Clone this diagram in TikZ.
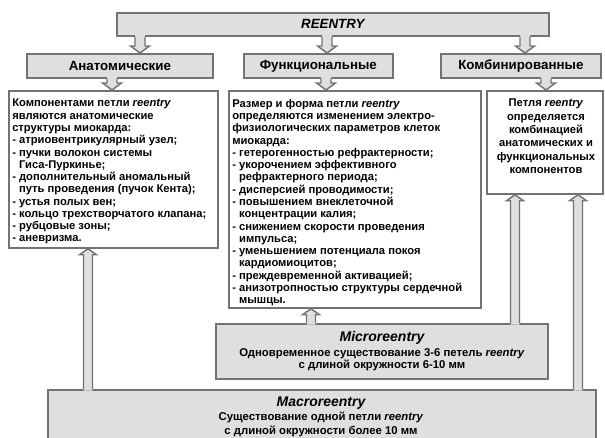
\documentclass[tikz,border=0pt]{standalone}
\usepackage{fontspec}
\setmainfont{Liberation Sans}
\usetikzlibrary{calc}

\newcommand{\pxu}{0.75pt}
% hollow block arrow pointing down: #1 column, #2 upper node, #3 lower node
\newcommand{\dnarr}[3]{%
  \fill[arrfill] ($(#2.south -| #1)+(-5,-1.5)$) -- ($(#3.north -| #1)+(-5,-7)$)
    -- ($(#3.north -| #1)+(-9.5,-7)$) -- (#3.north -| #1)
    -- ($(#3.north -| #1)+(9.5,-7)$) -- ($(#3.north -| #1)+(5,-7)$)
    -- ($(#2.south -| #1)+(5,-1.5)$) -- cycle;
  \draw[arrline] ($(#2.south -| #1)+(-5,0)$) -- ($(#3.north -| #1)+(-5,-7)$)
    -- ($(#3.north -| #1)+(-9.5,-7)$) -- (#3.north -| #1)
    -- ($(#3.north -| #1)+(9.5,-7)$) -- ($(#3.north -| #1)+(5,-7)$)
    -- ($(#2.south -| #1)+(5,0)$);
}
% hollow block arrow pointing up: #1 column, #2 lower node, #3 upper node
\newcommand{\uparr}[3]{%
  \fill[arrfill] ($(#2.north -| #1)+(-4.5,1.5)$) -- ($(#3.south -| #1)+(-4.5,6)$)
    -- ($(#3.south -| #1)+(-8.5,6)$) -- (#3.south -| #1)
    -- ($(#3.south -| #1)+(8.5,6)$) -- ($(#3.south -| #1)+(4.5,6)$)
    -- ($(#2.north -| #1)+(4.5,1.5)$) -- cycle;
  \draw[arrline] ($(#2.north -| #1)+(-4.5,0)$) -- ($(#3.south -| #1)+(-4.5,6)$)
    -- ($(#3.south -| #1)+(-8.5,6)$) -- (#3.south -| #1)
    -- ($(#3.south -| #1)+(8.5,6)$) -- ($(#3.south -| #1)+(4.5,6)$)
    -- ($(#2.north -| #1)+(4.5,0)$);
}

\begin{document}
\begin{tikzpicture}[x=0.75pt,y=-0.75pt,
    grbox/.style={draw=gray!90!black, line width=1.3pt, fill=gray!25, inner sep=0pt,
      anchor=north west, font=\bfseries\fontsize{10}{12}\selectfont},
    whbox/.style={draw=gray!90!black, line width=1.3pt, fill=white, inner sep=0pt,
      anchor=north west},
    body/.style={inner sep=0pt, anchor=north west, align=left,
      font=\bfseries\fontsize{8.4}{9.2}\selectfont},
    arrfill/.style={fill=gray!25},
    arrline/.style={draw=gray!90!black, line width=1.1pt, line join=miter}]
  \useasboundingbox (0,0) rectangle (605,437);

  % 1) head box and the three kinds
  \node[grbox, minimum width=432*\pxu, minimum height=23*\pxu] (reentry) at (116,12)
       {\itshape REENTRY};
  \node[grbox, minimum width=186*\pxu, minimum height=24*\pxu] (anat) at (26,53)
       {Анатомические};
  \node[grbox, minimum width=149*\pxu, minimum height=24*\pxu] (func) at (243,53)
       {Функциональные};
  \node[grbox, minimum width=160*\pxu, minimum height=24*\pxu] (comb) at (440,53)
       {Комбинированные};

  % 2) white boxes with the descriptions
  \node[whbox, minimum width=209*\pxu, minimum height=157*\pxu] (anattxt) at (8,90) {};
  \node[whbox, minimum width=252*\pxu, minimum height=217*\pxu] (functxt) at (228,90) {};
  \node[whbox, minimum width=116*\pxu, minimum height=103*\pxu] (combtxt) at (486,90) {};

  % 3) micro- and macroreentry at the bottom
  \node[grbox, minimum width=332*\pxu, minimum height=55*\pxu] (micro) at (215,323) {};
  \node[grbox, minimum width=548*\pxu, minimum height=52*\pxu] (macro) at (47,389) {};

  % 4) columns of the block arrows
  \coordinate (c1) at (140,0);
  \coordinate (c2) at (327,0);
  \coordinate (c3) at (525,0);
  \coordinate (d1) at (112,0);
  \coordinate (d2) at (326,0);
  \coordinate (d3) at (546,0);
  \coordinate (u1) at (88,0);
  \coordinate (u2) at (311,0);
  \coordinate (u3) at (515,0);
  \coordinate (u4) at (578,0);

  \dnarr{c1}{reentry}{anat}
  \dnarr{c2}{reentry}{func}
  \dnarr{c3}{reentry}{comb}
  \dnarr{d1}{anat}{anattxt}
  \dnarr{d2}{func}{functxt}
  \dnarr{d3}{comb}{combtxt}
  \uparr{u1}{macro}{anattxt}
  \uparr{u2}{micro}{functxt}
  \uparr{u3}{micro}{combtxt}
  \uparr{u4}{macro}{combtxt}

  % 5) texts
  \node[body] (anatlist) at (12,99) {Компонентами петли \textit{reentry}\\
    являются анатомические\\
    структуры миокарда:\\
    - атриовентрикулярный узел;\\
    - пучки волокон системы\\
    \phantom{- }Гиса-Пуркинье;\\
    - дополнительный аномальный\\
    \phantom{- }путь проведения (пучок Кента);\\
    - устья полых вен;\\
    - кольцо трехстворчатого клапана;\\
    - рубцовые зоны;\\
    - аневризма.};
  \node[body] (funclist) at (232,99) {Размер и форма петли \textit{reentry}\\
    определяются изменением электро-\\
    физиологических параметров клеток\\
    миокарда:\\
    - гетерогенностью рефрактерности;\\
    - укорочением эффективного\\
    \phantom{- }рефрактерного периода;\\
    - дисперсией проводимости;\\
    - повышением внеклеточной\\
    \phantom{- }концентрации калия;\\
    - снижением скорости проведения\\
    \phantom{- }импульса;\\
    - уменьшением потенциала покоя\\
    \phantom{- }кардиомиоцитов;\\
    - преждевременной активацией;\\
    - анизотропностью структуры сердечной\\
    \phantom{- }мышцы.};
  \node[body, anchor=north, align=center, font=\bfseries\fontsize{8.4}{10}\selectfont]
       (combnote) at (546,99) {Петля \textit{reentry}\\
    определяется\\ комбинацией\\ анатомических и\\ функциональных\\ компонентов};
  \node[body, anchor=center, align=center, font=\bfseries\fontsize{8.5}{9.2}\selectfont]
       (micronote) at (382,351)
       {{\fontsize{10.5}{12}\selectfont\itshape Microreentry}\\[2pt]
    Одновременное существование 3-6 петель \textit{reentry}\\
    с длиной окружности 6-10 мм};
  \node[body, anchor=center, align=center, font=\bfseries\fontsize{8.5}{10.5}\selectfont]
       (macronote) at (321,417)
       {{\fontsize{10.5}{12}\selectfont\itshape Macroreentry}\\
    Существование одной петли \textit{reentry}\\
    с длиной окружности более 10 мм};
\end{tikzpicture}
\end{document}
